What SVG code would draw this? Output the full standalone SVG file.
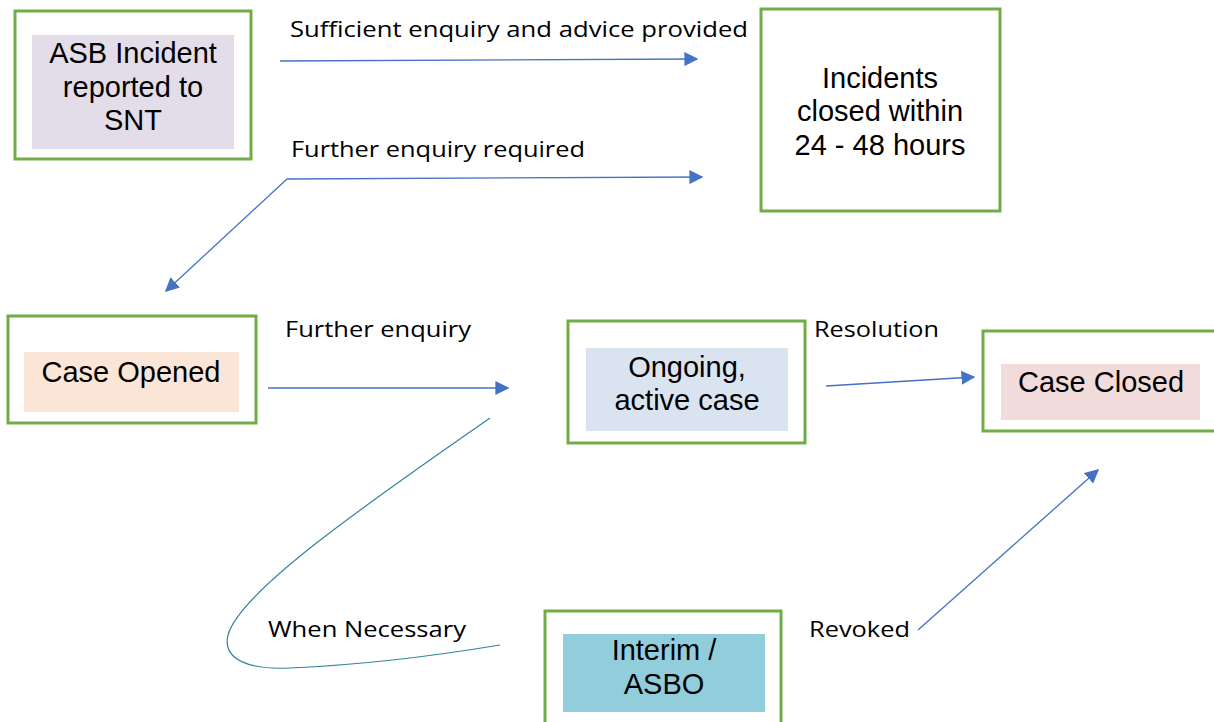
<svg xmlns="http://www.w3.org/2000/svg" width="1214" height="722" viewBox="0 0 1214 722">
<style>
.box{fill:#fff;stroke:#70AD47;stroke-width:3}
.nt{font-family:"Liberation Sans",Arial,sans-serif;font-size:29px;fill:#000;text-anchor:middle}
.lb{font-family:"Open Sans","Liberation Sans",sans-serif;font-size:22px;fill:#000}
.ar{fill:none;stroke:#4472C4;stroke-width:1.3;marker-end:url(#ah)}
</style>
<defs>
<marker id="ah" viewBox="0 0 10 10" refX="9" refY="5" markerWidth="14" markerHeight="14" markerUnits="userSpaceOnUse" orient="auto">
<path d="M0,0 L10,5 L0,10 z" fill="#4472C4"/>
</marker>
</defs>
<rect width="1214" height="722" fill="#fff"/>
<g id="n1">
<rect class="box" x="15" y="11" width="236" height="148"/>
<rect x="32" y="35" width="202" height="114" fill="#E3DDEA"/>
<text class="nt" x="133" y="63">ASB Incident</text>
<text class="nt" x="133" y="97">reported to</text>
<text class="nt" x="133" y="130">SNT</text>
</g>
<g id="n2">
<rect class="box" x="761" y="9" width="239" height="202"/>
<text class="nt" x="880" y="88">Incidents</text>
<text class="nt" x="880" y="121">closed within</text>
<text class="nt" x="880" y="155">24 - 48 hours</text>
</g>
<g id="n3">
<rect class="box" x="8" y="316" width="248" height="107"/>
<rect x="24" y="352" width="215" height="60" fill="#FBE5D6"/>
<text class="nt" x="131" y="382">Case Opened</text>
</g>
<g id="n4">
<rect class="box" x="568" y="321" width="237" height="122"/>
<rect x="586" y="348" width="202" height="83" fill="#DAE3F0"/>
<text class="nt" x="687" y="377">Ongoing,</text>
<text class="nt" x="687" y="410">active case</text>
</g>
<g id="n5">
<rect class="box" x="983" y="331" width="240" height="100"/>
<rect x="1001" y="364" width="199" height="56" fill="#F2DCDB"/>
<text class="nt" x="1101" y="392">Case Closed</text>
</g>
<g id="n6">
<rect class="box" x="545" y="611" width="236" height="120"/>
<rect x="563" y="634" width="202" height="78" fill="#92CDDC"/>
<text class="nt" x="664" y="660">Interim /</text>
<text class="nt" x="664" y="694">ASBO</text>
</g>
<g id="connectors">
<path class="ar" d="M280,61 L697,59"/>
<path class="ar" d="M287,179 L702,177"/>
<path class="ar" d="M287,179 L166,291"/>
<path class="ar" d="M268,388 L508,388"/>
<path class="ar" d="M826,386 L974,377"/>
<path class="ar" d="M918,630 L1098,470"/>
<path d="M490,418 C380,495 240,590 228,635 C222,660 250,670 290,668 C360,665 440,655 500,645" fill="none" stroke="#31849B" stroke-width="1.2"/>
<text class="lb" x="290" y="37" textLength="458" lengthAdjust="spacingAndGlyphs">Sufficient enquiry and advice provided</text>
<text class="lb" x="291" y="157" textLength="294" lengthAdjust="spacingAndGlyphs">Further enquiry required</text>
<text class="lb" x="285" y="337" textLength="186" lengthAdjust="spacingAndGlyphs">Further enquiry</text>
<text class="lb" x="814" y="337" textLength="125" lengthAdjust="spacingAndGlyphs">Resolution</text>
<text class="lb" x="268" y="637" textLength="198" lengthAdjust="spacingAndGlyphs">When Necessary</text>
<text class="lb" x="809" y="637" textLength="101" lengthAdjust="spacingAndGlyphs">Revoked</text>
</g>
</svg>
